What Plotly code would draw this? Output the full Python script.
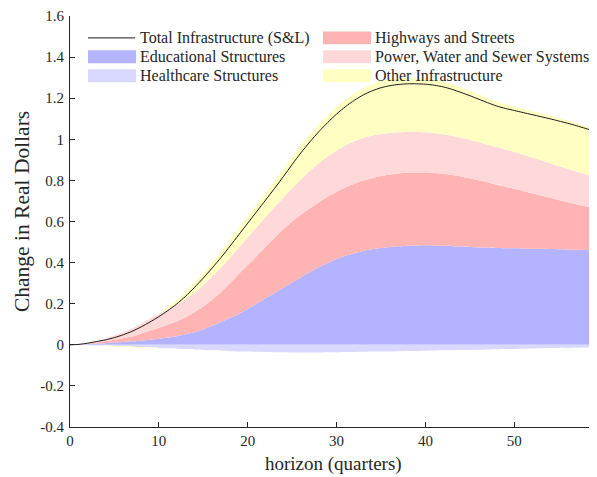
import numpy as np
import plotly.graph_objects as go

# horizon (quarters)
horizon = list(range(61))

# stacked levels (top edge of each band)
edu_level = [0, 0.001, 0.003, 0.005, 0.008, 0.011, 0.014, 0.017, 0.020, 0.024,
             0.029, 0.035, 0.042, 0.051, 0.061, 0.076, 0.093, 0.111, 0.130, 0.150,
             0.175, 0.200, 0.226, 0.252, 0.278, 0.303, 0.329, 0.354, 0.377, 0.398,
             0.417, 0.433, 0.446, 0.457, 0.465, 0.471, 0.476, 0.479, 0.482, 0.483,
             0.484, 0.483, 0.482, 0.480, 0.478, 0.476, 0.474, 0.473, 0.471, 0.470,
             0.470, 0.469, 0.468, 0.467, 0.466, 0.465, 0.464, 0.462, 0.461, 0.459,
             0.458]

highways_level = [0, 0.002, 0.006, 0.011, 0.017, 0.024, 0.032, 0.041, 0.054, 0.069,
                  0.083, 0.098, 0.113, 0.134, 0.158, 0.186, 0.219, 0.257, 0.299, 0.344,
                  0.388, 0.432, 0.476, 0.520, 0.562, 0.600, 0.634, 0.665, 0.694, 0.721,
                  0.745, 0.766, 0.784, 0.799, 0.811, 0.821, 0.829, 0.834, 0.837, 0.838,
                  0.838, 0.836, 0.832, 0.826, 0.819, 0.810, 0.801, 0.790, 0.779, 0.769,
                  0.759, 0.749, 0.738, 0.727, 0.716, 0.705, 0.694, 0.684, 0.674, 0.665,
                  0.656]

power_level = [0, 0.003, 0.010, 0.019, 0.031, 0.045, 0.061, 0.080, 0.103, 0.127,
               0.150, 0.172, 0.196, 0.222, 0.252, 0.290, 0.332, 0.376, 0.423, 0.472,
               0.522, 0.572, 0.622, 0.670, 0.716, 0.762, 0.806, 0.847, 0.884, 0.917,
               0.946, 0.970, 0.990, 1.006, 1.018, 1.026, 1.031, 1.034, 1.036, 1.036,
               1.034, 1.030, 1.024, 1.016, 1.007, 0.997, 0.986, 0.974, 0.962, 0.950,
               0.938, 0.925, 0.912, 0.898, 0.884, 0.870, 0.857, 0.843, 0.830, 0.817,
               0.805]

healthcare = [0, -0.001, -0.002, -0.003, -0.004, -0.006, -0.007, -0.009, -0.011, -0.013,
              -0.015, -0.017, -0.019, -0.021, -0.023, -0.025, -0.027, -0.029, -0.031, -0.032,
              -0.033, -0.034, -0.035, -0.036, -0.036, -0.037, -0.037, -0.037, -0.037, -0.036,
              -0.036, -0.035, -0.035, -0.034, -0.033, -0.033, -0.032, -0.031, -0.030, -0.030,
              -0.029, -0.028, -0.027, -0.026, -0.025, -0.025, -0.024, -0.023, -0.022, -0.021,
              -0.020, -0.019, -0.018, -0.017, -0.016, -0.015, -0.015, -0.014, -0.013, -0.012,
              -0.011]

total = [0, 0.002, 0.008, 0.016, 0.024, 0.035, 0.049, 0.066, 0.087, 0.111,
         0.137, 0.166, 0.198, 0.236, 0.279, 0.325, 0.374, 0.425, 0.480, 0.536,
         0.592, 0.648, 0.704, 0.760, 0.818, 0.878, 0.935, 0.988, 1.037, 1.082,
         1.123, 1.159, 1.190, 1.216, 1.236, 1.251, 1.261, 1.267, 1.270, 1.270,
         1.268, 1.263, 1.255, 1.243, 1.228, 1.212, 1.195, 1.178, 1.162, 1.150,
         1.140, 1.130, 1.120, 1.110, 1.100, 1.089, 1.078, 1.066, 1.053, 1.040,
         1.028]

y_tick_vals = [-0.4, -0.2, 0, 0.2, 0.4, 0.6, 0.8, 1, 1.2, 1.4, 1.6]
y_tick_text = ["-0.4", "-0.2", "0", "0.2", "0.4", "0.6", "0.8", "1", "1.2", "1.4", "1.6"]
x_tick_vals = [0, 10, 20, 30, 40, 50]

names = ["Total Infrastructure (S&L)", "Highways and Streets",
         "Educational Structures", "Power, Water and Sewer Systems",
         "Healthcare Structures", "Other Infrastructure"]

C_EDU = "#b3b3ff"
C_HEALTH = "#d9d9ff"
C_HW = "#ffb3b3"
C_POWER = "#ffd9d9"
C_OTHER = "#ffffc4"
FONT = "Liberation Serif"
AX = "#262626"

# derived "other" component
tot = np.array(total)
pw = np.array(power_level)
hc = np.array(healthcare)
other = tot - pw - hc
other_pos = np.clip(other, 0, None)
other_neg = np.clip(other, None, 0)
zeros = np.zeros(len(horizon))

fig = go.Figure()
SHAPE = dict(shape="spline", smoothing=0.6)


def band(lower, upper, color):
    fig.add_trace(go.Scatter(x=horizon, y=list(lower), mode="lines",
                             line=dict(width=0, color=color, **SHAPE), showlegend=False,
                             hoverinfo="skip"))
    fig.add_trace(go.Scatter(x=horizon, y=list(upper), mode="lines", fill="tonexty",
                             fillcolor=color, line=dict(width=0, color=color, **SHAPE),
                             showlegend=False, hoverinfo="skip"))


band(zeros, edu_level, C_EDU)
band(edu_level, highways_level, C_HW)
band(highways_level, power_level, C_POWER)
band(pw, pw + other_pos, C_OTHER)
band(zeros, hc, C_HEALTH)
band(hc, hc + other_neg, C_OTHER)

fig.add_trace(go.Scatter(x=horizon, y=total, mode="lines",
                         line=dict(color="#1a1a1a", width=1, **SHAPE), showlegend=False))

# the page body has an 8px margin; positions below are in window pixels
OFF = 8
FIG_W, FIG_H = 597 - OFF, 477 - OFF
L, R, T, B = 70 - OFF, 597 - OFF, 14 - OFF, 427 - OFF


def px(xw):
    return (xw - OFF - L) / (R - L)


def py(yw):
    return (B - (yw - OFF)) / (B - T)


shapes = []
annotations = []
legend_items = [
    ("line", "#1a1a1a", names[0], 88, 36),
    ("box", C_HW, names[1], 323, 36),
    ("box", C_EDU, names[2], 88, 55),
    ("box", C_POWER, names[3], 323, 55),
    ("box", C_HEALTH, names[4], 88, 74),
    ("box", C_OTHER, names[5], 323, 74),
]
for kind, col, txt, x0, yc in legend_items:
    if kind == "line":
        shapes.append(dict(type="line", xref="paper", yref="paper",
                           x0=px(x0), x1=px(x0 + 47), y0=py(yc), y1=py(yc),
                           line=dict(color=col, width=1)))
    else:
        shapes.append(dict(type="rect", xref="paper", yref="paper",
                           x0=px(x0), x1=px(x0 + 48), y0=py(yc - 6.5), y1=py(yc + 6.5),
                           fillcolor=col, line=dict(width=0), layer="above"))
    annotations.append(dict(text=txt, xref="paper", yref="paper", x=px(x0 + 50),
                            y=py(yc), xanchor="left", yanchor="middle", showarrow=False,
                            font=dict(family=FONT, size=16, color=AX)))

annotations.append(dict(text="horizon (quarters)", xref="paper", yref="paper",
                        x=0.5, y=py(464), xanchor="center", yanchor="middle",
                        showarrow=False, font=dict(family=FONT, size=19, color=AX)))
annotations.append(dict(text="Change in Real Dollars", xref="paper", yref="paper",
                        x=px(22), y=py(211), xanchor="center", yanchor="middle",
                        textangle=-90, showarrow=False,
                        font=dict(family=FONT, size=21.5, color=AX)))

fig.update_layout(
    width=FIG_W, height=FIG_H,
    margin=dict(l=L, r=FIG_W - R, t=T, b=FIG_H - B),
    paper_bgcolor="white", plot_bgcolor="white",
    showlegend=False,
    shapes=shapes, annotations=annotations,
    xaxis=dict(range=[0, 59.3], tickvals=x_tick_vals, ticks="inside", ticklen=5,
               tickcolor=AX, showline=True, linecolor=AX, linewidth=1,
               showgrid=False, zeroline=False,
               tickfont=dict(family=FONT, size=15, color=AX)),
    yaxis=dict(range=[-0.4, 1.6], tickvals=y_tick_vals, ticktext=y_tick_text,
               ticks="inside", ticklen=5, tickcolor=AX, showline=True,
               linecolor=AX, linewidth=1, showgrid=False, zeroline=False,
               ticklabelstandoff=2, ticklabeloverflow="allow",
               tickfont=dict(family=FONT, size=15, color=AX)),
)

fig.write_html("out.html")
